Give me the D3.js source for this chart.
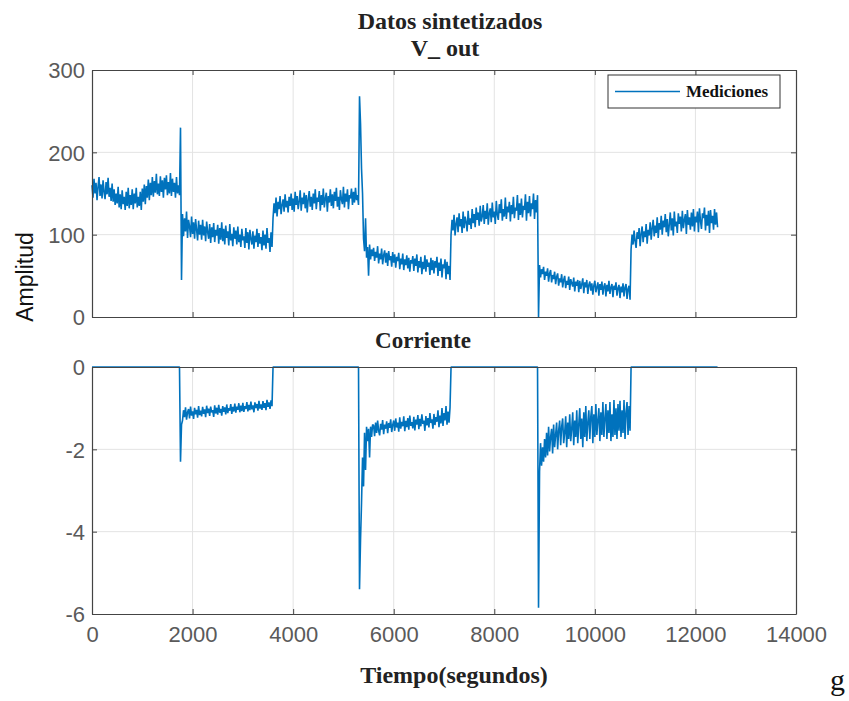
<!DOCTYPE html>
<html>
<head>
<meta charset="utf-8">
<script src="https://cdn.jsdelivr.net/npm/d3@7"></script>
<style>
  body { margin: 0; background: #fff; }
  svg { display: block; }
</style>
</head>
<body>
<svg id="chart" width="849" height="701"></svg>
<script>
// Sampling interval of the logged signals (seconds)
const sampleStep = 20;

// V_out readings, one per sample
const vOut = [
  // 0 – 1740 s
  160,145,168,150,163,142,158,170,147,161,144,166,152,143,164,149,169,146,157,141,
  162,140,155,136,150,138,158,133,149,131,154,137,146,130,152,135,157,132,148,136,
  155,131,150,138,157,133,146,135,152,130,156,140,161,137,159,145,167,142,163,148,
  170,146,165,151,174,149,162,147,171,152,166,145,169,155,172,148,164,150,175,147,
  168,152,163,145,170,150,160,148,
  // switching transient
  230,45,
  // 1800 – 3580 s
  125,98,120,104,128,96,118,110,97,122,101,115,95,119,106,93,117,100,112,94,
  118,99,110,92,116,103,95,113,90,109,97,114,91,106,99,112,89,108,94,115,
  92,107,88,111,96,104,87,113,93,101,86,109,95,105,88,110,91,100,85,107,
  93,98,84,108,90,103,82,106,95,88,104,83,99,91,107,85,102,89,97,81,
  105,87,100,83,108,90,96,79,103,85,
  // 3600 – 5300 s
  120,138,126,145,122,140,131,147,125,136,143,128,149,133,141,127,146,135,150,130,
  144,128,152,136,147,131,140,154,129,145,137,151,132,148,127,143,153,134,146,130,
  150,138,155,131,145,140,153,129,148,136,156,133,144,151,128,147,139,155,135,149,
  132,152,141,157,134,146,130,154,143,137,158,133,150,140,155,131,148,144,156,136,
  152,139,157,142,148,136,
  // switching transient
  268,235,180,150,95,80,120,72,85,50,88,70,82,74,
  // 5600 – 7120 s
  84,68,79,72,86,65,77,70,83,64,75,81,66,78,62,80,69,74,61,79,
  66,76,60,73,68,78,58,71,64,77,57,70,63,75,59,72,55,69,65,74,
  56,71,62,76,54,68,60,73,52,67,58,75,55,70,61,66,51,72,57,69,
  53,68,60,73,50,66,56,71,48,64,59,70,46,67,52,62,45,
  // 7140 – 8860 s
  100,118,105,124,99,113,121,103,126,110,119,102,128,108,122,115,104,129,112,120,
  107,131,114,125,109,133,118,127,111,135,116,122,136,113,129,119,138,112,126,132,
  115,139,121,128,113,141,124,118,137,126,143,117,131,122,145,119,134,127,140,116,
  136,125,146,120,133,129,148,118,138,124,144,121,135,130,149,117,140,126,147,122,
  138,131,150,119,142,127,148,
  // switching transient
  0,
  // 8900 – 10700 s
  63,48,58,52,61,45,55,50,59,43,53,57,42,51,46,55,40,49,53,38,
  47,42,52,36,45,50,35,44,39,49,33,46,41,37,48,31,43,38,45,30,
  44,34,40,47,29,42,36,45,28,39,43,32,41,27,38,44,30,36,42,26,
  40,33,43,27,37,41,25,39,31,44,28,36,40,24,38,33,42,26,35,39,
  23,37,30,41,25,36,40,22,34,38,21,
  // 10720 – 12440 s
  82,100,88,105,92,84,103,95,108,86,101,110,91,104,97,113,89,106,99,115,
  94,108,118,98,111,102,121,96,114,106,123,100,117,109,125,103,119,98,112,127,
  105,120,99,128,110,116,102,126,113,122,104,129,108,118,125,101,130,112,121,106,
  127,110,131,104,122,115,128,103,132,117,107,126,120,133,105,124,111,129,102,130,
  114,123,106,131,112,127,109
];

// Current readings, one per sample
const corriente = [
  // 0 – 1740 s
  0,0,0,0,0,0,0,0,0,0,0,0,0,0,0,0,0,0,0,0,
  0,0,0,0,0,0,0,0,0,0,0,0,0,0,0,0,0,0,0,0,
  0,0,0,0,0,0,0,0,0,0,0,0,0,0,0,0,0,0,0,0,
  0,0,0,0,0,0,0,0,0,0,0,0,0,0,0,0,0,0,0,0,
  0,0,0,0,0,0,0,0,
  // switching transient
  -2.3,-1.4,
  // 1800 – 3580 s
  -1.30,-1.05,-1.22,-0.98,-1.28,-1.10,-1.02,-1.25,-0.96,-1.18,-1.08,-1.26,-0.99,-1.15,-1.04,-1.23,-0.95,-1.17,-1.06,-1.20,
  -0.97,-1.14,-1.03,-1.22,-0.94,-1.12,-1.01,-1.19,-0.96,-1.10,-1.05,-1.21,-0.93,-1.13,-0.99,-1.16,-0.92,-1.11,-1.02,-1.18,
  -0.95,-1.09,-0.98,-1.15,-0.91,-1.12,-1.00,-1.06,-0.90,-1.14,-0.97,-1.08,-0.89,-1.11,-0.96,-1.04,-0.88,-1.10,-0.94,-1.07,
  -0.87,-1.09,-0.95,-1.02,-0.85,-1.08,-0.92,-1.05,-0.84,-1.03,-0.93,-1.10,-0.86,-1.00,-0.90,-1.06,-0.82,-1.01,-0.91,-1.04,
  -0.83,-0.99,-0.88,-1.05,-0.80,-0.97,-0.86,-1.02,-0.81,-0.95,
  // 3600 – 5300 s
  0,0,0,0,0,0,0,0,0,0,0,0,0,0,0,0,0,0,0,0,
  0,0,0,0,0,0,0,0,0,0,0,0,0,0,0,0,0,0,0,0,
  0,0,0,0,0,0,0,0,0,0,0,0,0,0,0,0,0,0,0,0,
  0,0,0,0,0,0,0,0,0,0,0,0,0,0,0,0,0,0,0,0,
  0,0,0,0,0,0,
  // switching transient
  -5.4,-4.2,-3.3,-2.2,-2.9,-1.6,-2.5,-1.45,-1.8,-1.5,-2.2,-1.45,-1.7,-1.4,
  // 5600 – 7120 s
  -1.42,-1.68,-1.35,-1.60,-1.30,-1.55,-1.66,-1.38,-1.52,-1.29,-1.63,-1.40,-1.50,-1.32,-1.61,-1.36,-1.48,-1.27,-1.58,-1.41,
  -1.30,-1.55,-1.25,-1.47,-1.35,-1.57,-1.22,-1.50,-1.33,-1.44,-1.20,-1.56,-1.31,-1.46,-1.24,-1.52,-1.18,-1.43,-1.34,-1.49,
  -1.21,-1.54,-1.28,-1.40,-1.17,-1.51,-1.26,-1.44,-1.15,-1.38,-1.30,-1.55,-1.19,-1.42,-1.24,-1.47,-1.12,-1.36,-1.27,-1.50,
  -1.14,-1.41,-1.22,-1.33,-1.05,-1.46,-1.18,-1.37,-1.00,-1.43,-1.12,-1.30,-0.95,-1.40,-1.08,-1.35,-0.98,
  // 7140 – 8860 s
  0,0,0,0,0,0,0,0,0,0,0,0,0,0,0,0,0,0,0,0,
  0,0,0,0,0,0,0,0,0,0,0,0,0,0,0,0,0,0,0,0,
  0,0,0,0,0,0,0,0,0,0,0,0,0,0,0,0,0,0,0,0,
  0,0,0,0,0,0,0,0,0,0,0,0,0,0,0,0,0,0,0,0,
  0,0,0,0,0,0,0,
  // switching transient
  -5.85,
  // 8900 – 10700 s
  -2.55,-1.85,-2.40,-1.95,-2.30,-1.75,-2.20,-1.60,-2.15,-1.45,-2.05,-1.70,-1.50,-2.10,-1.40,-1.95,-1.65,-1.35,-2.00,-1.55,
  -1.30,-1.90,-1.45,-1.25,-1.85,-1.60,-1.20,-1.95,-1.35,-1.75,-1.15,-1.80,-1.50,-1.10,-1.90,-1.30,-1.70,-1.05,-1.85,-1.40,
  -1.00,-1.75,-1.25,-1.95,-1.10,-1.70,-0.95,-1.80,-1.35,-1.05,-1.75,-1.20,-0.95,-1.85,-1.15,-1.70,-0.90,-1.65,-1.30,-1.00,
  -1.80,-1.10,-1.65,-0.85,-1.70,-1.25,-0.90,-1.75,-1.05,-1.60,-0.85,-1.80,-1.15,-1.70,-0.80,-1.65,-1.00,-1.75,-0.90,-1.55,
  -0.82,-1.70,-1.05,-1.60,-0.80,-1.75,-1.10,-0.85,-1.65,-0.95,-1.55,
  // 10720 – 12440 s
  0,0,0,0,0,0,0,0,0,0,0,0,0,0,0,0,0,0,0,0,
  0,0,0,0,0,0,0,0,0,0,0,0,0,0,0,0,0,0,0,0,
  0,0,0,0,0,0,0,0,0,0,0,0,0,0,0,0,0,0,0,0,
  0,0,0,0,0,0,0,0,0,0,0,0,0,0,0,0,0,0,0,0,
  0,0,0,0,0,0,0
];

// Axis ticks
const xTicks = [0, 2000, 4000, 6000, 8000, 10000, 12000, 14000];
const vTicks = [0, 100, 200, 300];
const iTicks = [-6, -4, -2, 0];

const titles = { main: "Datos sintetizados", top: "V_ out", bottom: "Corriente" };
const xLabel = "Tiempo(segundos)";
const yLabel = "Amplitud";
const legendLabel = "Mediciones";

const lineColor = "#0072BD";
const boxColor = "#444";
const gridColor = "#e3e3e3";
const tickTextColor = "#5a5a5a";

// plain hyphen for negative tick values
const tickFmt = d => (d < 0 ? "-" + Math.abs(d) : String(d));

const svg = d3.select("#chart");
const left = 92, right = 796;

const x = d3.scaleLinear().domain([0, 14000]).range([left, right]);

function panel(top, bottom, domain, ticks, values, showXLabels) {
  const y = d3.scaleLinear().domain(domain).range([bottom, top]);
  const g = svg.append("g");

  // grid
  g.selectAll(".gx").data(xTicks.slice(1, -1)).join("line")
    .attr("x1", d => x(d)).attr("x2", d => x(d))
    .attr("y1", top).attr("y2", bottom)
    .attr("stroke", gridColor).attr("stroke-width", 1);
  g.selectAll(".gy").data(ticks.slice(1, -1)).join("line")
    .attr("x1", left).attr("x2", right)
    .attr("y1", d => y(d)).attr("y2", d => y(d))
    .attr("stroke", gridColor).attr("stroke-width", 1);

  // data line
  const line = d3.line()
    .x((d, i) => x(i * sampleStep))
    .y(d => y(d));
  g.append("path")
    .datum(values)
    .attr("fill", "none")
    .attr("stroke", lineColor)
    .attr("stroke-width", 1.6)
    .attr("stroke-linejoin", "bevel")
    .attr("d", line);

  // axes with inward ticks, boxed
  const axB = d3.axisBottom(x).tickValues(xTicks).tickSizeInner(-5).tickSizeOuter(0)
    .tickFormat(showXLabels ? tickFmt : () => "");
  const axT = d3.axisTop(x).tickValues(xTicks).tickSizeInner(-5).tickSizeOuter(0).tickFormat(() => "");
  const axL = d3.axisLeft(y).tickValues(ticks).tickSizeInner(-5).tickSizeOuter(0).tickFormat(tickFmt);
  const axR = d3.axisRight(y).tickValues(ticks).tickSizeInner(-5).tickSizeOuter(0).tickFormat(() => "");

  const gb = g.append("g").attr("transform", `translate(0,${bottom})`).call(axB);
  const gt = g.append("g").attr("transform", `translate(0,${top})`).call(axT);
  const gl = g.append("g").attr("transform", `translate(${left},0)`).call(axL);
  const gr = g.append("g").attr("transform", `translate(${right},0)`).call(axR);

  [gb, gt, gl, gr].forEach(a => {
    a.select(".domain").attr("stroke", boxColor).attr("stroke-width", 1.2);
    a.selectAll(".tick line").attr("stroke", boxColor);
    a.selectAll(".tick text")
      .attr("font-family", "'Liberation Sans', Arial, sans-serif")
      .attr("font-size", 22)
      .attr("fill", tickTextColor);
  });
  gl.selectAll(".tick text").attr("x", -7).attr("dy", "0.36em");
  gb.selectAll(".tick text").attr("y", 12).attr("dy", "0.72em");
  return y;
}

panel(70, 317, [0, 300], vTicks, vOut, false);
panel(367, 614, [-6, 0], iTicks, corriente, true);

// titles
const serif = "'Liberation Serif', 'Times New Roman', serif";
svg.append("text").attr("x", 450).attr("y", 29).attr("text-anchor", "middle")
  .attr("font-family", serif).attr("font-weight", "bold").attr("font-size", 24)
  .attr("fill", "#222").text(titles.main);
svg.append("text").attr("x", 445).attr("y", 56).attr("text-anchor", "middle")
  .attr("font-family", serif).attr("font-weight", "bold").attr("font-size", 24)
  .attr("fill", "#222").text(titles.top);
svg.append("text").attr("x", 423).attr("y", 348).attr("text-anchor", "middle")
  .attr("font-family", serif).attr("font-weight", "bold").attr("font-size", 23)
  .attr("fill", "#222").text(titles.bottom);

// axis labels
svg.append("text").attr("x", 454).attr("y", 683).attr("text-anchor", "middle")
  .attr("font-family", serif).attr("font-weight", "bold").attr("font-size", 24)
  .attr("fill", "#222").text(xLabel);
svg.append("text")
  .attr("transform", "translate(33,277) rotate(-90)")
  .attr("text-anchor", "middle")
  .attr("font-family", "'Liberation Sans', Arial, sans-serif").attr("font-size", 23)
  .attr("fill", "#111").text(yLabel);

// legend
const lg = svg.append("g");
lg.append("rect").attr("x", 608).attr("y", 75).attr("width", 172).attr("height", 33)
  .attr("fill", "#fff").attr("stroke", "#333").attr("stroke-width", 1);
lg.append("line").attr("x1", 615).attr("x2", 680).attr("y1", 91.5).attr("y2", 91.5)
  .attr("stroke", lineColor).attr("stroke-width", 1.3);
lg.append("text").attr("x", 686).attr("y", 97)
  .attr("font-family", serif).attr("font-weight", "bold").attr("font-size", 17)
  .attr("fill", "#111").text(legendLabel);

// trailing mark below the figure
svg.append("text").attr("x", 830).attr("y", 690)
  .attr("font-family", serif).attr("font-size", 30)
  .attr("fill", "#111").text("g");
</script>
</body>
</html>
